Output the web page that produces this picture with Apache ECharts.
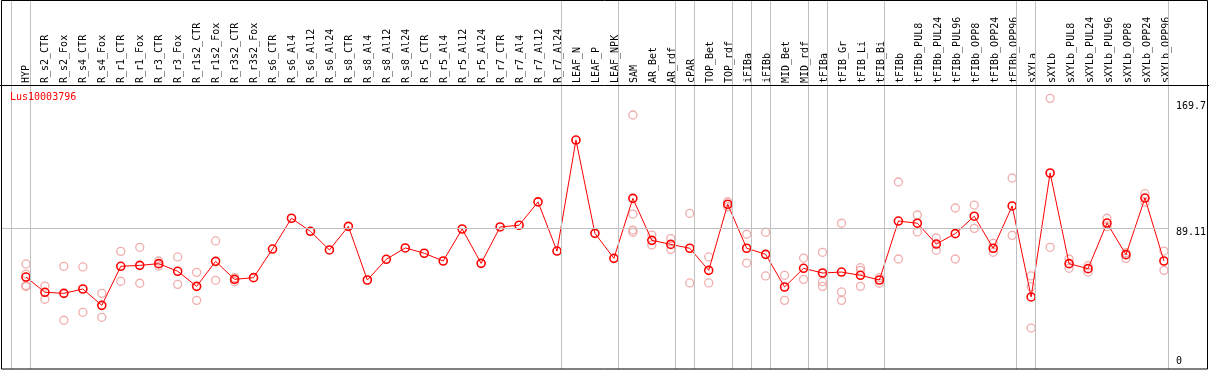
<!DOCTYPE html>
<html>
<head>
<meta charset="utf-8">
<script src="https://cdn.jsdelivr.net/npm/echarts@6/dist/echarts.min.js"></script>
<style>
  html, body { margin: 0; padding: 0; background: #fff; }
  #chart { width: 1209px; height: 370px; }
</style>
</head>
<body>
<div id="chart"></div>
<script>
// ---------------- data ----------------
const geneName = 'Lus10003796';

const categories = [
  'HYP', 'R_s2_CTR', 'R_s2_Fox', 'R_s4_CTR', 'R_s4_Fox', 'R_r1_CTR', 'R_r1_Fox', 'R_r3_CTR', 'R_r3_Fox',
  'R_r1s2_CTR', 'R_r1s2_Fox', 'R_r3s2_CTR', 'R_r3s2_Fox', 'R_s6_CTR', 'R_s6_Al4', 'R_s6_Al12', 'R_s6_Al24',
  'R_s8_CTR', 'R_s8_Al4', 'R_s8_Al12', 'R_s8_Al24', 'R_r5_CTR', 'R_r5_Al4', 'R_r5_Al12', 'R_r5_Al24',
  'R_r7_CTR', 'R_r7_Al4', 'R_r7_Al12', 'R_r7_Al24', 'LEAF_N', 'LEAF_P', 'LEAF_NPK', 'SAM', 'AR_Bet', 'AR_rdf',
  'cPAR', 'TOP_Bet', 'TOP_rdf', 'iFIBa', 'iFIBb', 'MID_Bet', 'MID_rdf', 'tFIBa', 'tFIB_Gr', 'tFIB_Li', 'tFIB_Bi',
  'tFIBb', 'tFIBb_PUL8', 'tFIBb_PUL24', 'tFIBb_PUL96', 'tFIBb_OPP8', 'tFIBb_OPP24', 'tFIBb_OPP96',
  'sXYLa', 'sXYLb', 'sXYLb_PUL8', 'sXYLb_PUL24', 'sXYLb_PUL96', 'sXYLb_OPP8', 'sXYLb_OPP24', 'sXYLb_OPP96'
];

const meanValues = [
  57.6, 47.8, 47.1, 49.9, 39.4, 64.5, 65.1, 66.2, 61.3,
  51.6, 67.7, 56.1, 57.2, 75.6, 95.4, 87.0, 75.0,
  90.2, 55.7, 69.0, 76.3, 72.9, 67.9, 88.5, 66.4,
  89.8, 90.9, 105.9, 74.3, 145.7, 85.7, 69.6, 108.2, 81.2, 78.6,
  76.1, 61.9, 104.4, 76.1, 72.2, 51.2, 63.2, 60.2, 60.8, 58.7, 55.7,
  93.6, 92.2, 78.8, 85.5, 96.7, 76.1, 103.3,
  44.8, 124.5, 66.2, 63.0, 92.3, 72.0, 108.4, 67.9
];

// individual replicate values per category (same order as categories)
const replicateValues = [
  [66.0, 59.5, 52.2, 51.5], [51.8, 43.3], [64.5, 29.8], [64.1, 34.9], [47.1, 31.7], [74.1, 54.9], [76.7, 53.6], [67.9, 64.7], [70.5, 52.9],
  [60.6, 42.6], [80.8, 55.5], [57.2, 54.6], [], [], [], [], [],
  [], [], [], [], [], [], [], [],
  [], [], [], [], [], [], [], [161.8, 98.1, 87.8, 86.4], [84.6, 78.2], [82.3, 75.4],
  [98.6, 53.8], [70.5, 53.8], [106.0, 102.8], [85.1, 66.6], [86.4, 58.3], [58.7, 42.6], [69.8, 56.1], [73.5, 54.6, 51.6], [92.2, 48.0, 42.6], [63.6, 61.9, 51.6], [57.2, 53.6],
  [118.7, 69.2], [97.5, 86.6], [82.7, 74.8], [102.0, 69.2], [103.9, 88.9], [79.3, 73.5], [121.3, 84.4],
  [58.3, 51.4, 24.8], [172.5, 76.7], [69.2, 63.2], [64.9, 60.8], [95.4, 90.0], [73.2, 69.6], [111.2, 105.7], [74.3, 61.9]
];

// y-axis labels shown on the right
const yTickValues = [0, 89.11, 169.7];
const refLineValue = 89.11;

// last category of each tissue group (a separator is drawn after each)
const groupLastCategories = [
  'HYP', 'R_r7_Al24', 'LEAF_NPK', 'AR_rdf', 'cPAR', 'TOP_rdf', 'iFIBa', 'iFIBb',
  'MID_rdf', 'tFIBa', 'tFIB_Bi', 'tFIBb_OPP96', 'sXYLa', 'sXYLb_OPP96'
];

// ---------------- chart ----------------
const FONT = '"DejaVu Sans Mono", "Liberation Mono", monospace';
const chart = echarts.init(document.getElementById('chart'), null, { renderer: 'canvas' });

const meanData = meanValues.map((v, i) => [i, v]);
const repData = [];
replicateValues.forEach((arr, i) => arr.forEach(v => repData.push([i, v])));

const sepOffset = 0.24;
const sepLines = [{ xAxis: -1 + sepOffset }].concat(
  groupLastCategories.map(n => ({ xAxis: categories.indexOf(n) + sepOffset }))
);

const option = {
  animation: false,
  backgroundColor: '#ffffff',
  title: {
    text: geneName,
    left: 10, top: 92, padding: 0,
    textStyle: { color: '#ff0000', fontSize: 10, fontWeight: 'normal', fontFamily: FONT }
  },
  grid: [
    { left: 2, right: 38, top: 1, bottom: 1 },
    { left: 16.5, right: 33.5, top: 85, height: 20 }
  ],
  xAxis: [
    { gridIndex: 0, type: 'value', min: -1.263, max: 60.263, show: false },
    {
      gridIndex: 1, type: 'category', data: categories, position: 'top', boundaryGap: true,
      axisLine: { show: false }, axisTick: { show: false }, splitLine: { show: false },
      axisLabel: { interval: 0, rotate: 90, margin: 2, fontSize: 10, fontFamily: FONT, color: '#000' }
    }
  ],
  yAxis: [
    {
      gridIndex: 0, type: 'value', position: 'right', min: -1.543, max: 235.11,
      axisLine: { show: false }, axisTick: { show: false }, splitLine: { show: false },
      axisLabel: {
        customValues: yTickValues,
        margin: 7, fontSize: 10, fontFamily: FONT, color: '#000',
        formatter: v => (v === 0 ? '{z|0}' : '{a|' + v + '}'),
        rich: {
          a: { fontSize: 10, fontFamily: FONT, color: '#000', padding: [8, 0, 0, 0] },
          z: { fontSize: 10, fontFamily: FONT, color: '#000', padding: [0, 0, 10, 0] }
        }
      }
    },
    { gridIndex: 1, type: 'value', show: false }
  ],
  series: [
    {
      type: 'line', xAxisIndex: 0, yAxisIndex: 0, data: [], silent: true, z: 1,
      markLine: {
        silent: true, symbol: 'none', label: { show: false },
        lineStyle: { color: '#c0c0c0', width: 1, type: 'solid' },
        data: sepLines.concat([{ yAxis: refLineValue }])
      }
    },
    {
      type: 'scatter', xAxisIndex: 0, yAxisIndex: 0, data: repData, z: 2,
      symbol: 'circle', symbolSize: 8,
      itemStyle: { color: 'rgba(255,255,255,0)', borderColor: '#ee9999', borderWidth: 1.3 }
    },
    {
      type: 'line', xAxisIndex: 0, yAxisIndex: 0, data: meanData, z: 3,
      symbol: 'circle', symbolSize: 8, showAllSymbol: true,
      lineStyle: { color: '#ff0000', width: 1 },
      itemStyle: { color: 'rgba(255,255,255,0)', borderColor: '#ff0000', borderWidth: 1.6 }
    }
  ],
  graphic: [
    { type: 'line', silent: true, z: 100, shape: { x1: 0, y1: 85.5, x2: 1209, y2: 85.5 }, style: { stroke: '#000', lineWidth: 1 } },
    { type: 'rect', silent: true, z: 100, shape: { x: 1.5, y: 0.5, width: 1206, height: 368.5 }, style: { fill: 'none', stroke: '#000', lineWidth: 1 } }
  ]
};

chart.setOption(option);
</script>
</body>
</html>
